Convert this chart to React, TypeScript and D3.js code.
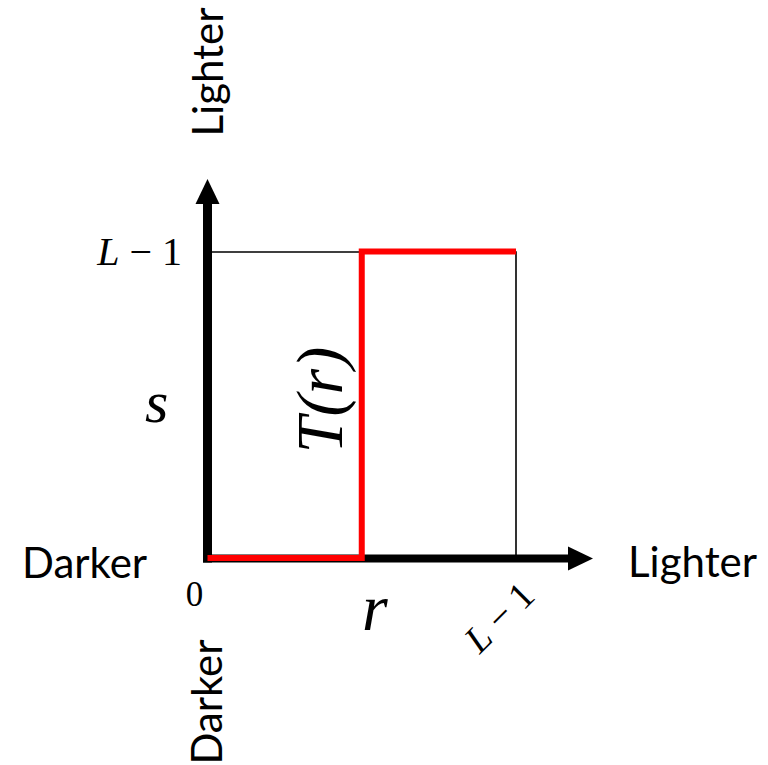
import React from 'react';
import * as d3 from 'd3';

// intensity levels: 0 .. L-1 (normalised)
const levels = [0, 1];
const levelLabels = ['0', 'L − 1'];

// thresholding transfer function T(r): step at mid grey
const stepR = [0, 0.5, 0.5, 1];
const stepS = [0, 0, 1, 1];

const axisTitles = { x: 'r', y: 's', curve: 'T(r)' };
const endLabels = { low: 'Darker', high: 'Lighter' };

const width = 768;
const height = 765;

const sansFont = 'Lato, "Open Sans", sans-serif';
const mathFont = '"Liberation Serif", "DejaVu Serif", serif';

const App = () => {
  const x = d3.scaleLinear().domain([0, 1]).range([207.5, 516]);
  const y = d3.scaleLinear().domain([0, 1]).range([558.5, 252]);

  const line = d3
    .line<number>()
    .x((d) => x(stepR[d]))
    .y((d) => y(stepS[d]));

  const boxPath = d3
    .line<[number, number]>()
    .x((d) => x(d[0]))
    .y((d) => y(d[1]))([
    [0, levels[1]],
    [levels[1], levels[1]],
    [levels[1], levels[0]],
  ]);

  // arrow heads reach past the L-1 frame
  const xEnd = x(1) + 77;
  const yEnd = y(1) - 73;
  const headLen = 25;
  const headHalf = 12;

  return (
    <svg
      width={width}
      height={height}
      style={{ position: 'absolute', left: 0, top: 0 }}
    >
      <rect width={width} height={height} fill="white" />

      {/* thin frame at L-1 */}
      <path d={boxPath || ''} fill="none" stroke="black" strokeWidth={1.6} />

      {/* axes */}
      <line
        x1={x(0)}
        y1={y(0) + 4}
        x2={x(0)}
        y2={yEnd + headLen}
        stroke="black"
        strokeWidth={9}
      />
      <polygon
        points={`${x(0)},${yEnd} ${x(0) - headHalf},${yEnd + headLen} ${x(0) + headHalf},${yEnd + headLen}`}
        fill="black"
      />
      <line
        x1={x(0) - 4.5}
        y1={y(0)}
        x2={xEnd - headLen}
        y2={y(0)}
        stroke="black"
        strokeWidth={8}
      />
      <polygon
        points={`${xEnd},${y(0)} ${xEnd - headLen},${y(0) - headHalf} ${xEnd - headLen},${y(0) + headHalf}`}
        fill="black"
      />

      {/* T(r) */}
      <path
        d={line(d3.range(stepR.length)) || ''}
        fill="none"
        stroke="#ff0000"
        strokeWidth={6}
        strokeLinejoin="miter"
        transform="translate(0,-0.5)"
      />

      {/* tick labels */}
      <text x={x(0) - 13} y={606} fontFamily={mathFont} fontSize={35} textAnchor="middle">
        {levelLabels[0]}
      </text>
      <text x={182} y={y(1) + 13} fontFamily={mathFont} fontSize={40} textAnchor="end">
        <tspan fontStyle="italic">L</tspan>
        {' − 1'}
      </text>
      <text
        transform={`translate(${x(1) - 17},617) rotate(-45)`}
        fontFamily={mathFont}
        fontSize={38}
        textAnchor="middle"
        dominantBaseline="central"
      >
        <tspan fontStyle="italic">L</tspan>
        {' − 1'}
      </text>

      {/* axis titles */}
      <text x={145} y={422} fontFamily={mathFont} fontStyle="italic" fontSize={60}>
        {axisTitles.y}
      </text>
      <text x={362} y={630} fontFamily={mathFont} fontStyle="italic" fontSize={66}>
        {axisTitles.x}
      </text>
      <text
        transform={`translate(342,400) rotate(-90)`}
        fontFamily={mathFont}
        fontStyle="italic"
        fontSize={66}
        textAnchor="middle"
      >
        {axisTitles.curve}
      </text>

      {/* darker / lighter */}
      <text x={22} y={578} fontFamily={sansFont} fontSize={42}>
        {endLabels.low}
      </text>
      <text x={628} y={577} fontFamily={sansFont} fontSize={42}>
        {endLabels.high}
      </text>
      <text
        transform="translate(223,72) rotate(-90)"
        fontFamily={sansFont}
        fontSize={42}
        textAnchor="middle"
      >
        {endLabels.high}
      </text>
      <text
        transform="translate(222,702) rotate(-90)"
        fontFamily={sansFont}
        fontSize={42}
        textAnchor="middle"
      >
        {endLabels.low}
      </text>
    </svg>
  );
};

export default App;
